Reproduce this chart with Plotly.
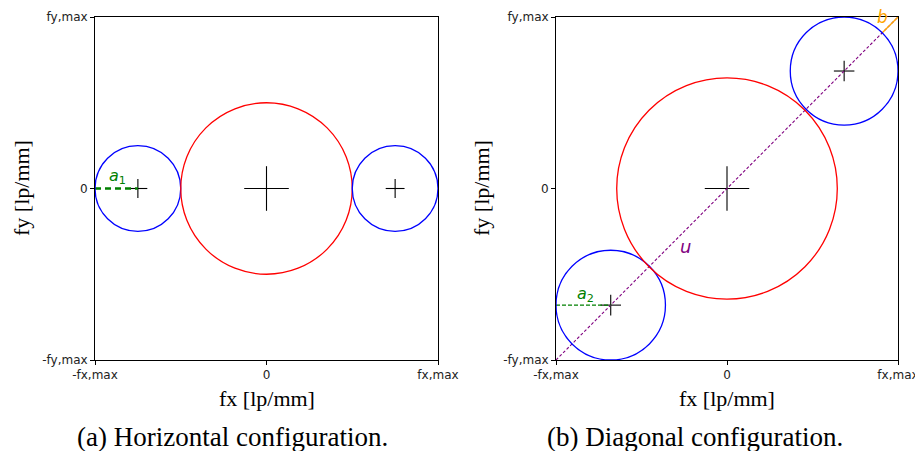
import plotly.graph_objects as go

# ---- data ----
tick_vals = [-1, 0, 1]
x_tick_text = ["-fx,max", "0", "fx,max"]
y_tick_text = ["-fy,max", "0", "fy,max"]

# (a) horizontal configuration: circles (cx, cy, r, color)
h_cx = [-0.75, 0.0, 0.75]
h_cy = [0.0, 0.0, 0.0]
h_r = [0.25, 0.5, 0.25]
h_col = ["blue", "red", "blue"]
h_cross = [0.055, 0.13, 0.055]

# (b) diagonal configuration
d_cx = [-0.68, 0.0, 0.685]
d_cy = [-0.68, 0.0, 0.685]
d_r = [0.32, 0.645, 0.315]
d_col = ["blue", "red", "blue"]
d_cross = [0.06, 0.13, 0.06]

a1_x = [-1.0, -0.75]
a1_y = [0.0, 0.0]
a2_x = [-1.0, -0.68]
a2_y = [-0.68, -0.68]
u_x = [-1.0, 1.0]
u_y = [-1.0, 1.0]
b_x = [0.908, 1.0]
b_y = [0.908, 1.0]

# page has an 8px body margin: figure sits at (8, 8)
OFF = 8
W, H = 915, 443
def fx(px):
    return (px - OFF) / W
def fy(py):
    return 1 - (py - OFF) / H

fig = go.Figure()

def add_panel(xa, ya, cxs, cys, rs, cols, crosses):
    for cx, cy, r, c in zip(cxs, cys, rs, cols):
        fig.add_shape(type="circle", xref=xa, yref=ya,
                      x0=cx - r, x1=cx + r, y0=cy - r, y1=cy + r,
                      line=dict(color=c, width=1.3))
    xs, ys = [], []
    for cx, cy, s in zip(cxs, cys, crosses):
        xs += [cx - s, cx + s, None, cx, cx, None]
        ys += [cy, cy, None, cy - s, cy + s, None]
    fig.add_trace(go.Scatter(x=xs, y=ys, mode="lines", xaxis=xa, yaxis=ya,
                             line=dict(color="black", width=1.1), hoverinfo="skip"))

add_panel("x", "y", h_cx, h_cy, h_r, h_col, h_cross)
add_panel("x2", "y2", d_cx, d_cy, d_r, d_col, d_cross)

fig.add_trace(go.Scatter(x=a1_x, y=a1_y, mode="lines", xaxis="x", yaxis="y",
                         line=dict(color="green", width=2.5, dash="6px,4px")))
fig.add_trace(go.Scatter(x=u_x, y=u_y, mode="lines", xaxis="x2", yaxis="y2",
                         line=dict(color="purple", width=1.1, dash="3px,2px")))
fig.add_trace(go.Scatter(x=a2_x, y=a2_y, mode="lines", xaxis="x2", yaxis="y2",
                         line=dict(color="green", width=1.2, dash="4px,2px")))
fig.add_trace(go.Scatter(x=b_x, y=b_y, mode="lines", xaxis="x2", yaxis="y2",
                         line=dict(color="orange", width=1.3)))

ax_common = dict(range=[-1, 1], tickvals=tick_vals, showgrid=False, zeroline=False,
                 showline=True, mirror=True, linecolor="black", linewidth=1,
                 ticks="outside", ticklen=4, tickcolor="black", automargin=False,
                 tickfont=dict(family="DejaVu Sans", size=12, color="#222"))

ydom = [fy(360), fy(17)]
fig.update_layout(
    width=W, height=H, margin=dict(l=0, r=0, t=0, b=0, autoexpand=False),
    paper_bgcolor="white", plot_bgcolor="white", showlegend=False,
    xaxis=dict(domain=[fx(95), fx(438)], anchor="y", ticktext=x_tick_text, **ax_common),
    yaxis=dict(domain=ydom, anchor="x", ticktext=y_tick_text, **ax_common),
    xaxis2=dict(domain=[fx(556), fx(898)], anchor="y2", ticktext=x_tick_text, **ax_common),
    yaxis2=dict(domain=ydom, anchor="x2", ticktext=y_tick_text, **ax_common),
)

serif = "Liberation Serif"
def pann(x, y, text, size, angle=0, color="black", family=serif):
    fig.add_annotation(xref="paper", yref="paper", x=fx(x), y=fy(y), text=text,
                       showarrow=False, textangle=angle, xanchor="center", yanchor="middle",
                       font=dict(family=family, size=size, color=color))

pann(266.5, 398, "fx [lp/mm]", 22)
pann(727, 398, "fx [lp/mm]", 22)
pann(22, 188, "fy [lp/mm]", 22, angle=-90)
pann(482, 188, "fy [lp/mm]", 22, angle=-90)
pann(232, 437, "(a) Horizontal configuration.", 27)
pann(695, 437, "(b) Diagonal configuration.", 27)

def dann(xa, ya, x, y, text, color, size=16):
    fig.add_annotation(xref=xa, yref=ya, x=x, y=y, text=text, showarrow=False,
                       font=dict(family="DejaVu Sans", size=size, color=color))

dann("x", "y", -0.87, 0.07, "<i>a</i><sub>1</sub>", "green")
dann("x2", "y2", -0.83, -0.62, "<i>a</i><sub>2</sub>", "green")
dann("x2", "y2", -0.24, -0.34, "<i>u</i>", "purple", 18)
dann("x2", "y2", 0.91, 1.0, "<i>b</i>", "orange", 17)

fig.write_html("out.html")
